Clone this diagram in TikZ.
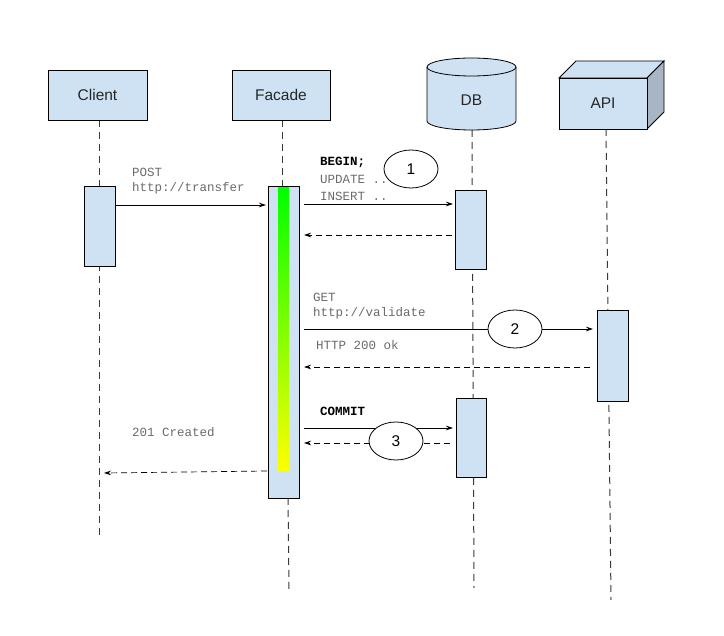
\documentclass[tikz,border=0pt]{standalone}
\usepackage{fontspec}
\setmainfont{Liberation Sans}
\setsansfont{Liberation Sans}
\newfontfamily\monof{Liberation Mono}
\usetikzlibrary{arrows.meta,shapes.geometric}
\definecolor{boxfill}{HTML}{CFE2F3}
\definecolor{sidefill}{HTML}{A7B5C4}
\definecolor{msggray}{HTML}{6B6B6B}
\definecolor{lifegray}{HTML}{3A3A3A}
\begin{document}
\begin{tikzpicture}[x=1pt,y=-1pt,
  actor/.style={draw=black,fill=boxfill,line width=0.8pt},
  actbox/.style={draw=black,fill=boxfill,line width=0.8pt},
  lifeline/.style={draw=lifegray,line width=1pt,dash pattern=on 7pt off 5pt},
  msg/.style={draw=black,line width=0.7pt,-{Stealth[length=7pt,width=4.5pt]}},
  ret/.style={draw=black,line width=0.7pt,dash pattern=on 6pt off 4pt,-{Stealth[length=7pt,width=4.5pt]}},
  lbl/.style={font=\fontsize{15.5}{18}\selectfont,text=black!85},
  mono/.style={font=\monof\fontsize{12.5}{16}\selectfont,text=msggray,anchor=west,inner sep=0pt},
  monob/.style={font=\monof\bfseries\fontsize{12.5}{16}\selectfont,text=black,anchor=west,inner sep=0pt},
  num/.style={draw=black,ellipse,fill=white,minimum width=54pt,minimum height=38pt,line width=0.8pt,font=\fontsize{15.5}{18}\selectfont,inner sep=0pt}
]
\useasboundingbox (0,0) rectangle (724,636);
\fill[white] (0,0) rectangle (724,636);

% lifelines
\coordinate (cl1) at (99,120); \coordinate (cl2) at (99,535);
\coordinate (fa1) at (282,120); \coordinate (fa2) at (288,498); \coordinate (fa3) at (289,590);
\coordinate (db1) at (472,130); \coordinate (db2) at (474,588);
\coordinate (ap1) at (606,129); \coordinate (ap2) at (611,600);
\draw[lifeline] (cl1) -- (cl2);
\draw[lifeline] (fa1) -- (282,186);
\draw[lifeline] (fa2) -- (fa3);
\draw[lifeline] (db1) -- (db2);
\draw[lifeline] (ap1) -- (ap2);

% actors
\node[actor,lbl,minimum width=99pt,minimum height=50pt,inner sep=0pt] (client) at (97.5,95) {Client};
\node[actor,lbl,minimum width=98pt,minimum height=50pt,inner sep=0pt] (facade) at (281,95) {Facade};

% DB cylinder
\fill[boxfill] (427,67) -- (427,121) arc[start angle=180,end angle=360,x radius=44.5pt,y radius=9pt] -- (516,67) arc[start angle=0,end angle=180,x radius=44.5pt,y radius=9pt] -- cycle;
\draw[line width=0.8pt] (427,67) -- (427,121) arc[start angle=180,end angle=360,x radius=44.5pt,y radius=9pt] -- (516,67);
\draw[line width=0.8pt] (471.5,67) ellipse[x radius=44.5pt,y radius=9pt];
\node[lbl] (db) at (471.5,100) {DB};

% API cuboid
\draw[line width=0.8pt,fill=boxfill] (559,78) -- (576,61) -- (664,61) -- (647,78) -- cycle;
\draw[line width=0.8pt,fill=sidefill] (647,78) -- (664,61) -- (664,112) -- (647,129) -- cycle;
\node[actor,lbl,minimum width=88pt,minimum height=51pt,inner sep=0pt] (api) at (603,103.5) {API};

% activation boxes
\node[actbox,minimum width=31pt,minimum height=80pt,inner sep=0pt] (clact) at (99.5,226) {};
\node[actbox,minimum width=31pt,minimum height=312pt,inner sep=0pt] (faact) at (284,342) {};
\shade[top color=green,bottom color=yellow,middle color=green!50!yellow] (278,188) rectangle (289,471);
\node[actbox,minimum width=31pt,minimum height=79pt,inner sep=0pt] (dbact1) at (471,229.5) {};
\node[actbox,minimum width=30pt,minimum height=79pt,inner sep=0pt] (dbact2) at (471,437.5) {};
\node[actbox,minimum width=31pt,minimum height=91pt,inner sep=0pt] (apact) at (612.5,355.5) {};

% message coordinates
\coordinate (m1s) at (116,205); \coordinate (m1e) at (266,205);
\coordinate (m2s) at (304,204); \coordinate (m2e) at (453,204);
\coordinate (r2s) at (452,235); \coordinate (r2e) at (304,235);
\coordinate (m3s) at (304,329); \coordinate (m3e) at (593,329);
\coordinate (r3s) at (590,367); \coordinate (r3e) at (304,367);
\coordinate (m4s) at (304,428); \coordinate (m4e) at (453,428);
\coordinate (r4s) at (450,443); \coordinate (r4e) at (304,443);
\coordinate (r5s) at (267,471); \coordinate (r5e) at (104,473);

\draw[msg] (m1s) -- (m1e);
\draw[msg] (m2s) -- (m2e);
\draw[ret] (r2s) -- (r2e);
\draw[msg] (m3s) -- (m3e);
\draw[ret] (r3s) -- (r3e);
\draw[msg] (m4s) -- (m4e);
\draw[ret] (r4s) -- (r4e);
\draw[ret] (r5s) -- (r5e);

% numbered ellipses
\node[num] (n1) at (411,169) {1};
\node[num] (n2) at (515,329) {2};
\node[num] (n3) at (396,441) {3};

% labels
\node[mono] (t1) at (132,172) {POST};
\node[mono] (t2) at (132,188) {http://transfer};
\node[monob] (t3) at (320,162) {BEGIN;};
\node[mono] (t4) at (320,179) {UPDATE ..};
\node[mono] (t5) at (320,196) {INSERT ..};
\node[mono] (t6) at (313,297) {GET};
\node[mono] (t7) at (313,313) {http://validate};
\node[mono] (t8) at (316,345) {HTTP 200 ok};
\node[monob] (t9) at (320,411) {COMMIT};
\node[mono] (t10) at (132,432) {201 Created};
\end{tikzpicture}
\end{document}
